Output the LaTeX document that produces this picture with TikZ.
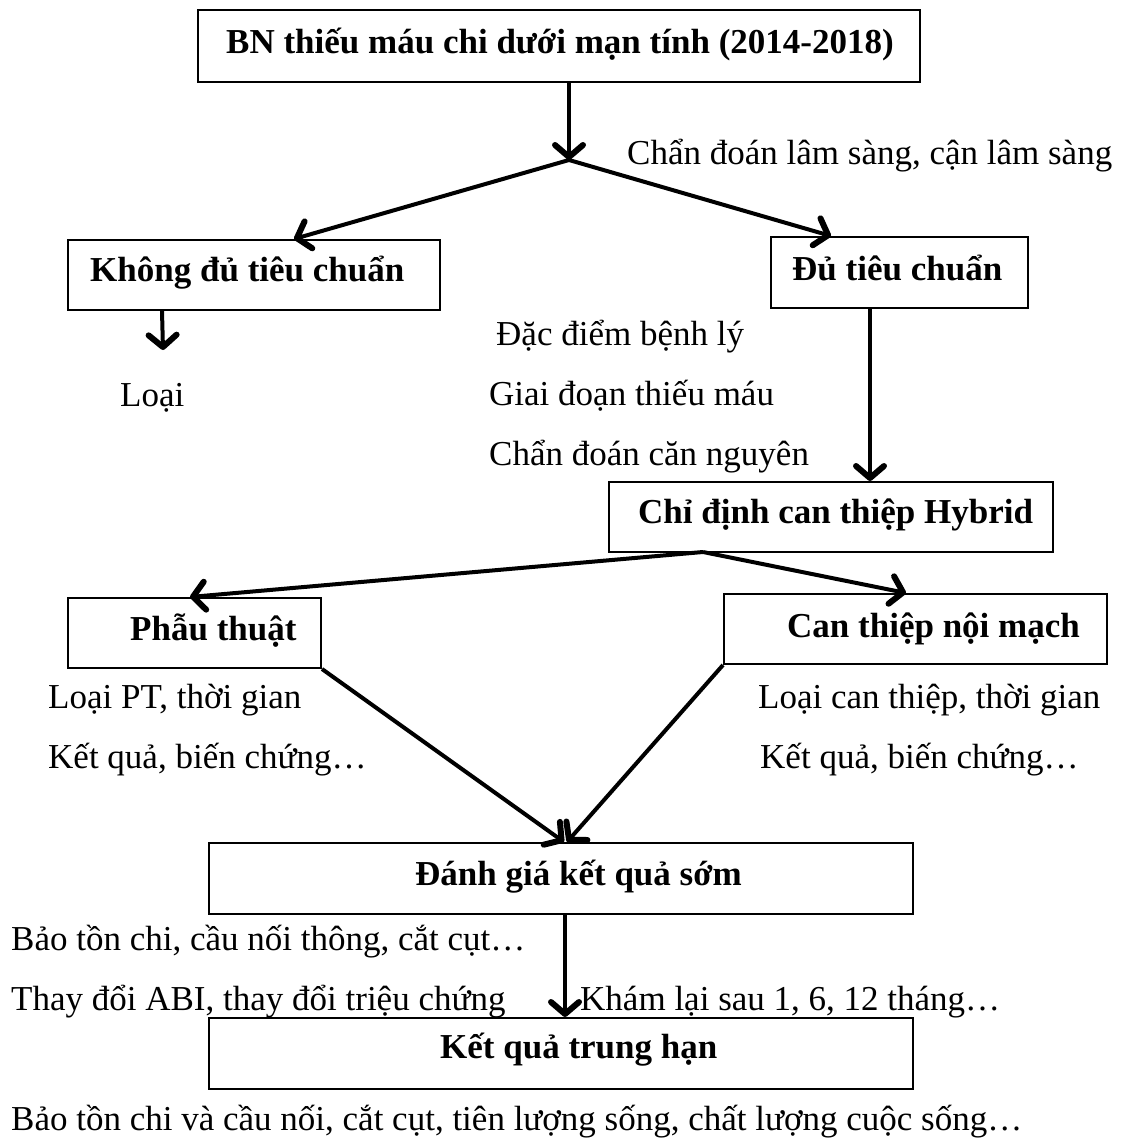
\documentclass[tikz,border=0pt]{standalone}
\usepackage{fontspec}
\setmainfont{Liberation Serif}
\usetikzlibrary{arrows.meta,calc}
\begin{document}
\begin{tikzpicture}[x=1pt,y=-1pt,
  box/.style={draw, line width=2pt, rectangle, inner sep=0pt},
  lbl/.style={anchor=base west, inner sep=0pt, font=\fontsize{35}{42}\selectfont},
  blbl/.style={anchor=base west, inner sep=0pt, font=\fontsize{35}{42}\selectfont\bfseries},
  arr/.style={line width=4pt, -{Straight Barb[length=12pt,width=28pt,line width=6pt,round]}}]
\useasboundingbox (0,0) rectangle (1123,1139);
% boxes
\node[box, minimum width=722pt, minimum height=72pt] (top) at (559,46) {};
\node[box, minimum width=372pt, minimum height=70pt] (kd) at (254,275) {};
\node[box, minimum width=257pt, minimum height=71pt] (du) at (899.5,272.5) {};
\node[box, minimum width=444pt, minimum height=70pt] (hy) at (831,517) {};
\node[box, minimum width=253pt, minimum height=70pt] (pt) at (194.5,633) {};
\node[box, minimum width=383pt, minimum height=70pt] (ct) at (915.5,629) {};
\node[box, minimum width=704pt, minimum height=71pt] (dg) at (561,878.5) {};
\node[box, minimum width=704pt, minimum height=71pt] (kq) at (561,1053.5) {};
% box texts
\node[blbl] (ttop) at (226,54) {BN thiếu máu chi dưới mạn tính (2014-2018)};
\node[blbl] (tkd) at (90,282) {Không đủ tiêu chuẩn};
\node[blbl] (tdu) at (792,280) {Đủ tiêu chuẩn};
\node[blbl] (thy) at (638,523) {Chỉ định can thiệp Hybrid};
\node[blbl] (tpt) at (130,640) {Phẫu thuật};
\node[blbl] (tct) at (787,637) {Can thiệp nội mạch};
\node[blbl] (tdg) at (415,885) {Đánh giá kết quả sớm};
\node[blbl] (tkq) at (440,1058) {Kết quả trung hạn};
% free texts
\node[lbl] (cd) at (627,165) {Chẩn đoán lâm sàng, cận lâm sàng};
\node[lbl] (loai) at (120,406) {Loại};
\node[lbl] (dd) at (496,345) {Đặc điểm bệnh lý};
\node[lbl] (gd) at (489,405) {Giai đoạn thiếu máu};
\node[lbl] (cn) at (489,465) {Chẩn đoán căn nguyên};
\node[lbl] (lpt) at (48,708) {Loại PT, thời gian};
\node[lbl] (kpt) at (48,768) {Kết quả, biến chứng…};
\node[lbl] (lct) at (758,708) {Loại can thiệp, thời gian};
\node[lbl] (kct) at (760,768) {Kết quả, biến chứng…};
\node[lbl] (bt1) at (11,950) {Bảo tồn chi, cầu nối thông, cắt cụt…};
\node[lbl] (abi) at (11,1010) {Thay đổi ABI, thay đổi triệu chứng};
\node[lbl] (kl) at (580,1010) {Khám lại sau 1, 6, 12 tháng…};
\node[lbl] (bt2) at (11,1130) {Bảo tồn chi và cầu nối, cắt cụt, tiên lượng sống, chất lượng cuộc sống…};
% connectors
\coordinate (j1) at (569,160);
\coordinate (j2) at (703,552);
\coordinate (lend) at (163,350);
\draw[arr] (top.south -| j1) -- (j1);
\draw[arr] (j1) -- ([xshift=227pt]kd.north west);
\draw[arr] (j1) -- ([xshift=61pt]du.north west);
\draw[arr] ([xshift=95pt]kd.south west) -- (lend);
\draw[arr] ([xshift=100pt]du.south west) -- ([xshift=262pt]hy.north west);
\draw[arr] (j2) -- ([xshift=123pt]pt.north west);
\draw[arr] (j2) -- ([xshift=183pt]ct.north west);
\draw[arr] (pt.south east) -- ([xshift=356pt]dg.north west);
\draw[arr] (ct.south west) -- ([xshift=359pt]dg.north west);
\draw[arr] ([xshift=357pt]dg.south west) -- ([xshift=357pt]kq.north west);
\end{tikzpicture}
\end{document}
